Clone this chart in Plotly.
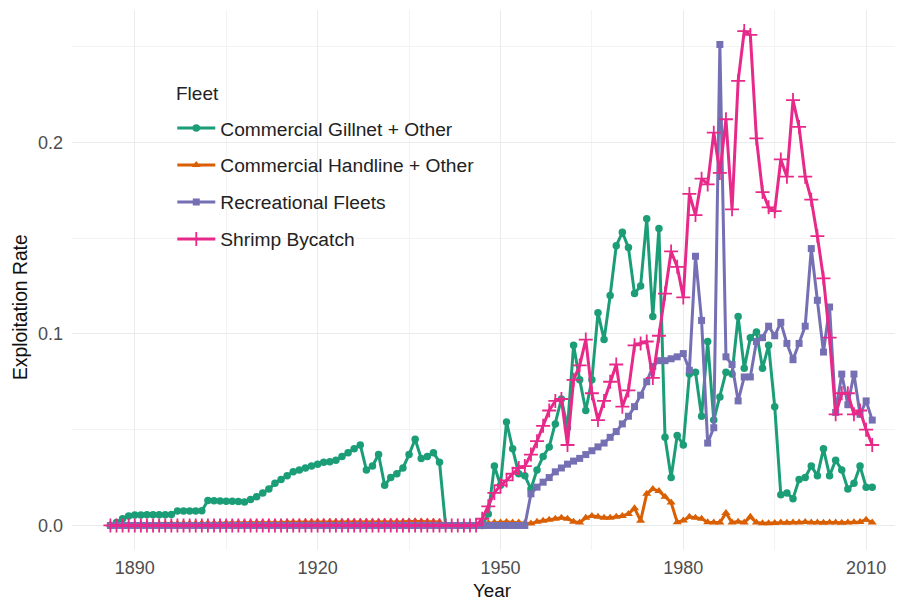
import plotly.graph_objects as go

years = list(range(1886, 2012))

gillnet = (
    [0.0, 0.0015, 0.0035, 0.005]
    + [0.0055, 0.0055, 0.0056, 0.0056, 0.0056, 0.0056, 0.0057, 0.0075, 0.0076, 0.0076]
    + [0.0076, 0.0077, 0.013, 0.0129, 0.0128, 0.0127, 0.0126, 0.0125, 0.0123, 0.0135]
    + [0.015, 0.017, 0.019, 0.022, 0.024, 0.026, 0.028, 0.029, 0.030, 0.031]
    + [0.032, 0.033, 0.0333, 0.034, 0.036, 0.038, 0.040, 0.042, 0.029, 0.031]
    + [0.037, 0.021, 0.025, 0.027, 0.030, 0.037, 0.045, 0.035, 0.036, 0.038]
    + [0.033, 0.0, 0.0, 0.0, 0.0, 0.0, 0.0, 0.0, 0.006, 0.031]
    + [0.021, 0.054, 0.040, 0.027, 0.026, 0.019, 0.029, 0.036, 0.041, 0.053]
    + [0.066, 0.051, 0.094, 0.076, 0.060, 0.076, 0.111, 0.097, 0.120, 0.146]
    + [0.153, 0.145, 0.121, 0.125, 0.160, 0.109, 0.155, 0.046, 0.025, 0.047]
    + [0.042, 0.079, 0.080, 0.057, 0.096, 0.055, 0.067, 0.080, 0.079, 0.109]
    + [0.082, 0.098, 0.101, 0.082, 0.094, 0.062, 0.016, 0.017, 0.014, 0.024]
    + [0.025, 0.031, 0.026, 0.040, 0.026, 0.034, 0.029, 0.019, 0.022, 0.031]
    + [0.020, 0.020]
)

handline = (
    [0.0005, 0.0005, 0.0005, 0.0005]
    + [0.0006, 0.0006, 0.0007, 0.0007, 0.0008, 0.0008, 0.0009, 0.0009, 0.001, 0.001]
    + [0.001, 0.0011, 0.0011, 0.0012, 0.0012, 0.0013, 0.0013, 0.0014, 0.0014, 0.0015]
    + [0.0015, 0.0015, 0.0016, 0.0016, 0.0016, 0.0017, 0.0017, 0.0017, 0.0018, 0.0018]
    + [0.0018, 0.0018, 0.0019, 0.0019, 0.0019, 0.0019, 0.002, 0.002, 0.002, 0.002]
    + [0.002, 0.002, 0.002, 0.002, 0.002, 0.0021, 0.0022, 0.0021, 0.002, 0.002]
    + [0.0018, 0.0, 0.0, 0.0, 0.0, 0.0, 0.0, 0.0002, 0.0012, 0.0015]
    + [0.0016, 0.0018, 0.0016, 0.0015, 0.0013, 0.001, 0.002, 0.0025, 0.003, 0.0035]
    + [0.004, 0.0035, 0.002, 0.0015, 0.004, 0.005, 0.0045, 0.004, 0.004, 0.0045]
    + [0.005, 0.006, 0.009, 0.0025, 0.0165, 0.019, 0.018, 0.015, 0.012, 0.0017]
    + [0.0026, 0.0045, 0.004, 0.0035, 0.0017, 0.0015, 0.0015, 0.0065, 0.0015, 0.002]
    + [0.0015, 0.0045, 0.0015, 0.0012, 0.0012, 0.0013, 0.0015, 0.0014, 0.0015, 0.0016]
    + [0.0018, 0.0015, 0.0016, 0.0014, 0.0015, 0.0016, 0.0014, 0.0015, 0.0017, 0.0018]
    + [0.003, 0.0015]
)

recreational = (
    [0.0] * 4
    + [0.0] * 60
    + [0.0, 0.0, 0.0, 0.0, 0.0, 0.0165, 0.020, 0.0226, 0.025, 0.028]
    + [0.030, 0.032, 0.0336, 0.035, 0.037, 0.039, 0.041, 0.043, 0.046, 0.049]
    + [0.053, 0.057, 0.062, 0.068, 0.075, 0.083, 0.086, 0.086, 0.087, 0.088]
    + [0.0897, 0.081, 0.1405, 0.107, 0.043, 0.051, 0.251, 0.088, 0.084, 0.065]
    + [0.0775, 0.0775, 0.096, 0.098, 0.104, 0.099, 0.106, 0.095, 0.0865, 0.095]
    + [0.104, 0.1445, 0.1175, 0.0905, 0.114, 0.059, 0.079, 0.063, 0.079, 0.058]
    + [0.065, 0.055]
)

shrimp = (
    [0.0] * 4
    + [0.0] * 50
    + [0.0, 0.0, 0.0, 0.0, 0.0, 0.0, 0.0, 0.0035, 0.010, 0.017]
    + [0.021, 0.0235, 0.027, 0.030, 0.031, 0.037, 0.044, 0.052, 0.060, 0.065]
    + [0.066, 0.042, 0.076, 0.0835, 0.097, 0.069, 0.055, 0.065, 0.075, 0.084]
    + [0.062, 0.0705, 0.094, 0.095, 0.096, 0.077, 0.099, 0.121, 0.143, 0.135]
    + [0.119, 0.173, 0.162, 0.181, 0.178, 0.205, 0.184, 0.212, 0.165, 0.232]
    + [0.258, 0.256, 0.202, 0.174, 0.166, 0.164, 0.191, 0.182, 0.222, 0.208]
    + [0.182, 0.170, 0.151, 0.129, 0.098, 0.058, 0.069, 0.069, 0.058, 0.060]
    + [0.050, 0.042]
)

fleet_names = ["Commercial Gillnet + Other", "Commercial Handline + Other",
               "Recreational Fleets", "Shrimp Bycatch"]
fleet_values = [gillnet, handline, recreational, shrimp]
fleet_colors = ["#1B9E77", "#D95F02", "#7570B3", "#E7298A"]
fleet_symbols = ["circle", "triangle-up", "square", "cross-thin"]
fleet_sizes = [7.5, 8, 7, 10]

x_ticks = [1890, 1920, 1950, 1980, 2010]
y_ticks = [0.0, 0.1, 0.2]
y_tick_labels = ["0.0", "0.1", "0.2"]

FONT = "Liberation Sans, Arial, sans-serif"

fig = go.Figure()
for name, vals, col, sym, sz in zip(fleet_names, fleet_values, fleet_colors,
                                    fleet_symbols, fleet_sizes):
    lw = 1.8 if sym == "cross-thin" else 0
    fig.add_trace(go.Scatter(
        x=years, y=vals, mode="lines+markers", name=name, legendgroup=name,
        line=dict(color=col, width=3.0),
        marker=dict(symbol=sym, size=sz, color=col, line=dict(color=col, width=lw)),
    ))

fig.update_layout(
    width=895, height=594,
    margin=dict(l=64, r=7, t=2, b=52),
    plot_bgcolor="white", paper_bgcolor="white",
    font=dict(family=FONT, color="#4D4D4D", size=18),
    showlegend=True,
    legend=dict(
        x=0.1217, y=0.8166, xanchor="left", yanchor="top",
        bgcolor="rgba(0,0,0,0)",
        font=dict(size=19.2, color="#222222"),
        traceorder="grouped", tracegroupgap=9, itemwidth=38,
    ),
    xaxis=dict(
        range=[1879.7, 2014.9], tickvals=x_ticks, ticktext=[str(v) for v in x_ticks],
        showgrid=True, gridcolor="#EBEBEB", gridwidth=1.2,
        minor=dict(tickvals=[1905, 1935, 1965, 1995], showgrid=True,
                   gridcolor="#F3F3F3", gridwidth=0.8),
        zeroline=False, showline=False, ticks="", ticklabelstandoff=5,
        tickfont=dict(size=18, color="#4D4D4D"),
    ),
    yaxis=dict(
        range=[-0.0128, 0.269], tickvals=y_ticks, ticktext=y_tick_labels,
        showgrid=True, gridcolor="#EBEBEB", gridwidth=1.2,
        minor=dict(tickvals=[0.05, 0.15, 0.25], showgrid=True,
                   gridcolor="#F3F3F3", gridwidth=0.8),
        zeroline=False, showline=False, ticks="", ticklabelstandoff=8,
        tickfont=dict(size=18, color="#4D4D4D"),
    ),
    annotations=[
        dict(text="Fleet", xref="paper", yref="paper", x=0.1238, y=0.846,
             xanchor="left", yanchor="middle", showarrow=False,
             font=dict(size=19, color="#222222")),
        dict(text="Year", xref="paper", yref="paper", x=0.5097, y=-0.075,
             xanchor="center", yanchor="middle", showarrow=False,
             font=dict(size=18.8, color="#111111")),
        dict(text="Exploitation Rate", xref="paper", yref="paper", x=-0.063, y=0.45,
             xanchor="center", yanchor="middle", showarrow=False, textangle=-90,
             font=dict(size=19.3, color="#111111")),
    ],
)

fig.write_html("out.html")
